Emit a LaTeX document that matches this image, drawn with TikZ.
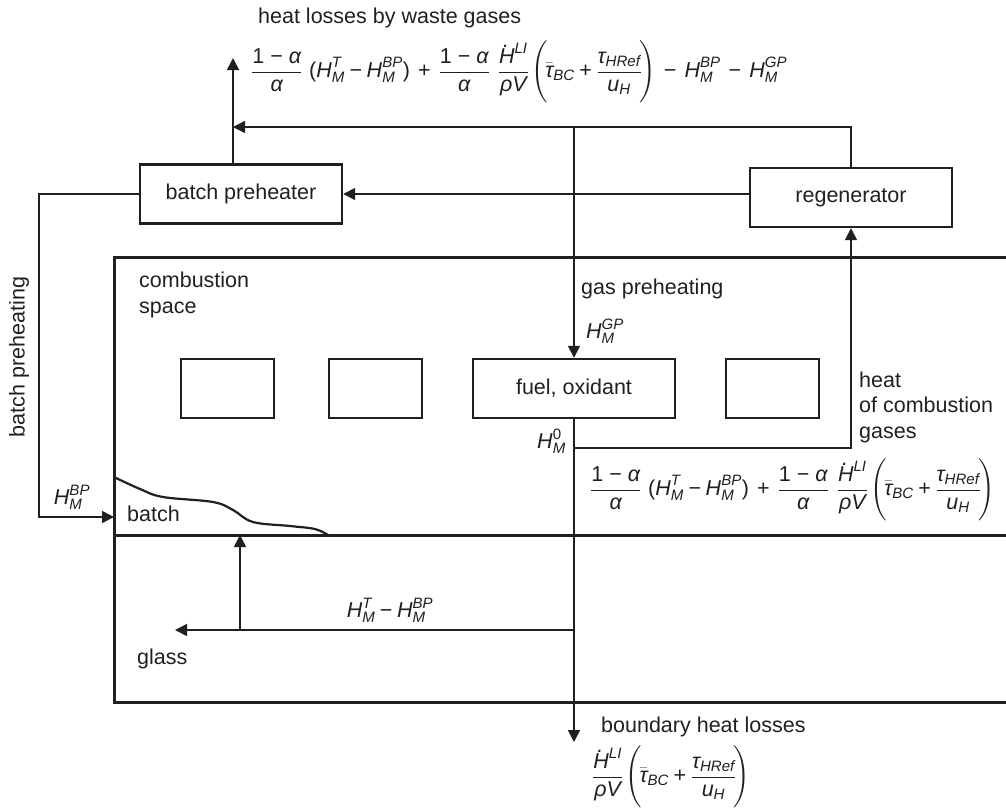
\documentclass[tikz,border=0pt]{standalone}
\usepackage{fontspec}
\usepackage{amsmath}
\setmainfont{Liberation Sans}
\usetikzlibrary{arrows.meta}
\definecolor{ink}{RGB}{35,31,32}
% italic sans letters inside formulas
\newcommand\gIt[1]{\text{\itshape #1}}
\newcommand\gH[1]{\gIt{H}^{\gIt{#1}}_{\gIt{M}}}
% H with a dot that does not push its superscript upwards
\newcommand\gHdot{\text{\itshape H\llap{\raisebox{0.74em}[0pt][0pt]{.\kern0.26em}}}}
\newcommand\gMinus{\mathbin{\text{−}}}
\newcommand\gWideMinus{\mkern3mu\mathbin{\text{−}}\mkern3mu}
\newcommand\gPlus{\mathbin{\text{+}}}
\newcommand\gWidePlus{\mkern3mu\mathbin{\text{+}}\mkern3mu}
\newcommand\gFrac{\dfrac{\text{1 − }\gIt{α}}{\gIt{α}}}
\newcommand\gLoss{\dfrac{\gHdot^{\gIt{LI}}}{\gIt{ρV}}\mkern2mu\Biggl(\mkern-2mu\bar{\gIt{τ}}_{\gIt{BC}}\gPlus\dfrac{\gIt{τ}_{\gIt{HRef}}}{\gIt{u}_{\gIt{H}}}\mkern-2mu\Biggr)}
\newcommand\gComb{\gFrac\mkern6mu\text{(}\gH{T}\gMinus\gH{BP}\text{)}\gWidePlus\gFrac\mkern7mu\gLoss}
\begin{document}
\begin{tikzpicture}[x=1pt,y=-1pt,
  txt/.style={inner sep=0pt, text=ink, font=\fontsize{21.5}{25.5}\selectfont},
  conn/.style={draw=ink, line width=1.6pt},
  arr/.style={conn, -{Triangle[length=12pt,width=12pt]}},
  wall/.style={draw=ink, line width=3pt},
  unit/.style={txt, draw=ink, line width=2.4pt, minimum width=202pt, minimum height=59pt},
  burner/.style={draw=ink, line width=2.4pt, minimum width=93pt, minimum height=59pt, inner sep=0pt}]
\useasboundingbox (0,0) rectangle (1006,807);

% furnace walls and glass level
\draw[wall] (1012,257) -- (114,257) -- (114,702) -- (1012,702);
\draw[wall] (114,535) -- (1012,535);
% batch blanket
\draw[ink, line width=2.2pt] plot[smooth, tension=0.6] coordinates
  {(114,477) (140,489) (163,497) (213,502) (233,510) (253,522) (290,526) (315,529) (328,535)};

% units
\node[unit] (pre) at (241,194) {batch preheater};
\node[unit] (reg) at (851,197.5) {regenerator};
\node[unit] (fuel) at (574,388.5) {fuel, oxidant};
\node[burner] (b1) at (227.5,388.5) {};
\node[burner] (b2) at (375.5,388.5) {};
\node[burner] (b4) at (772.5,388.5) {};

% connector end points
\coordinate (wg) at (233,127);
\coordinate (wgtip) at (233,58);
\coordinate (bpcorner) at (39,517);
\coordinate (bpin) at (114,517);
\coordinate (h0) at (574,448);
\coordinate (bl) at (574,742);
\coordinate (gj) at (574,630);
\coordinate (gl) at (175,630);
\coordinate (bt) at (240,535);

% waste gas flows
\draw[arr] (pre.north -| wg) -- (wgtip);
\draw[arr] (reg.north) |- (wg);
\draw[arr] (reg.west |- pre.east) -- (pre.east);
\draw[arr] (fuel.north |- wg) -- (fuel.north);
\draw[arr] (pre.west) -| (bpcorner) -- (bpin);
% combustion gases and heat flows
\draw[arr] (h0) -| (reg.south);
\draw[arr] (fuel.south) -- (bl);
\draw[arr] (gj) -- (gl);
\draw[arr] (bt |- gl) -- (bt);

% labels
\node[txt, anchor=west] at (258,18) {heat losses by waste gases};
\node[txt, anchor=west] (fw) at (251,72) {$\gComb\gWideMinus\gH{BP}\gWideMinus\gH{GP}$};
\node[txt, anchor=west, align=left] at (139,295) {combustion\\space};
\node[txt, anchor=west] at (581,289) {gas preheating};
\node[txt, anchor=west] at (586,331) {$\gH{GP}$};
\node[txt, anchor=east] at (566,441) {$\gIt{H}^{\text{0}}_{\gIt{M}}$};
\node[txt, anchor=west, align=left] at (859,407) {heat\\of combustion\\gases};
\node[txt, anchor=west] (fc) at (590,490) {$\gComb$};
\node[txt, anchor=west] at (127,514) {batch};
\node[txt] at (72,497) {$\gH{BP}$};
\node[txt, rotate=90] at (19,357) {batch preheating};
\node[txt] at (390,610) {$\gH{T}\gMinus\gH{BP}$};
\node[txt, anchor=west] at (137,659) {glass};
\node[txt, anchor=west] at (601,727) {boundary heat losses};
\node[txt, anchor=west] (fb) at (592,777) {$\gLoss$};
\end{tikzpicture}
\end{document}
